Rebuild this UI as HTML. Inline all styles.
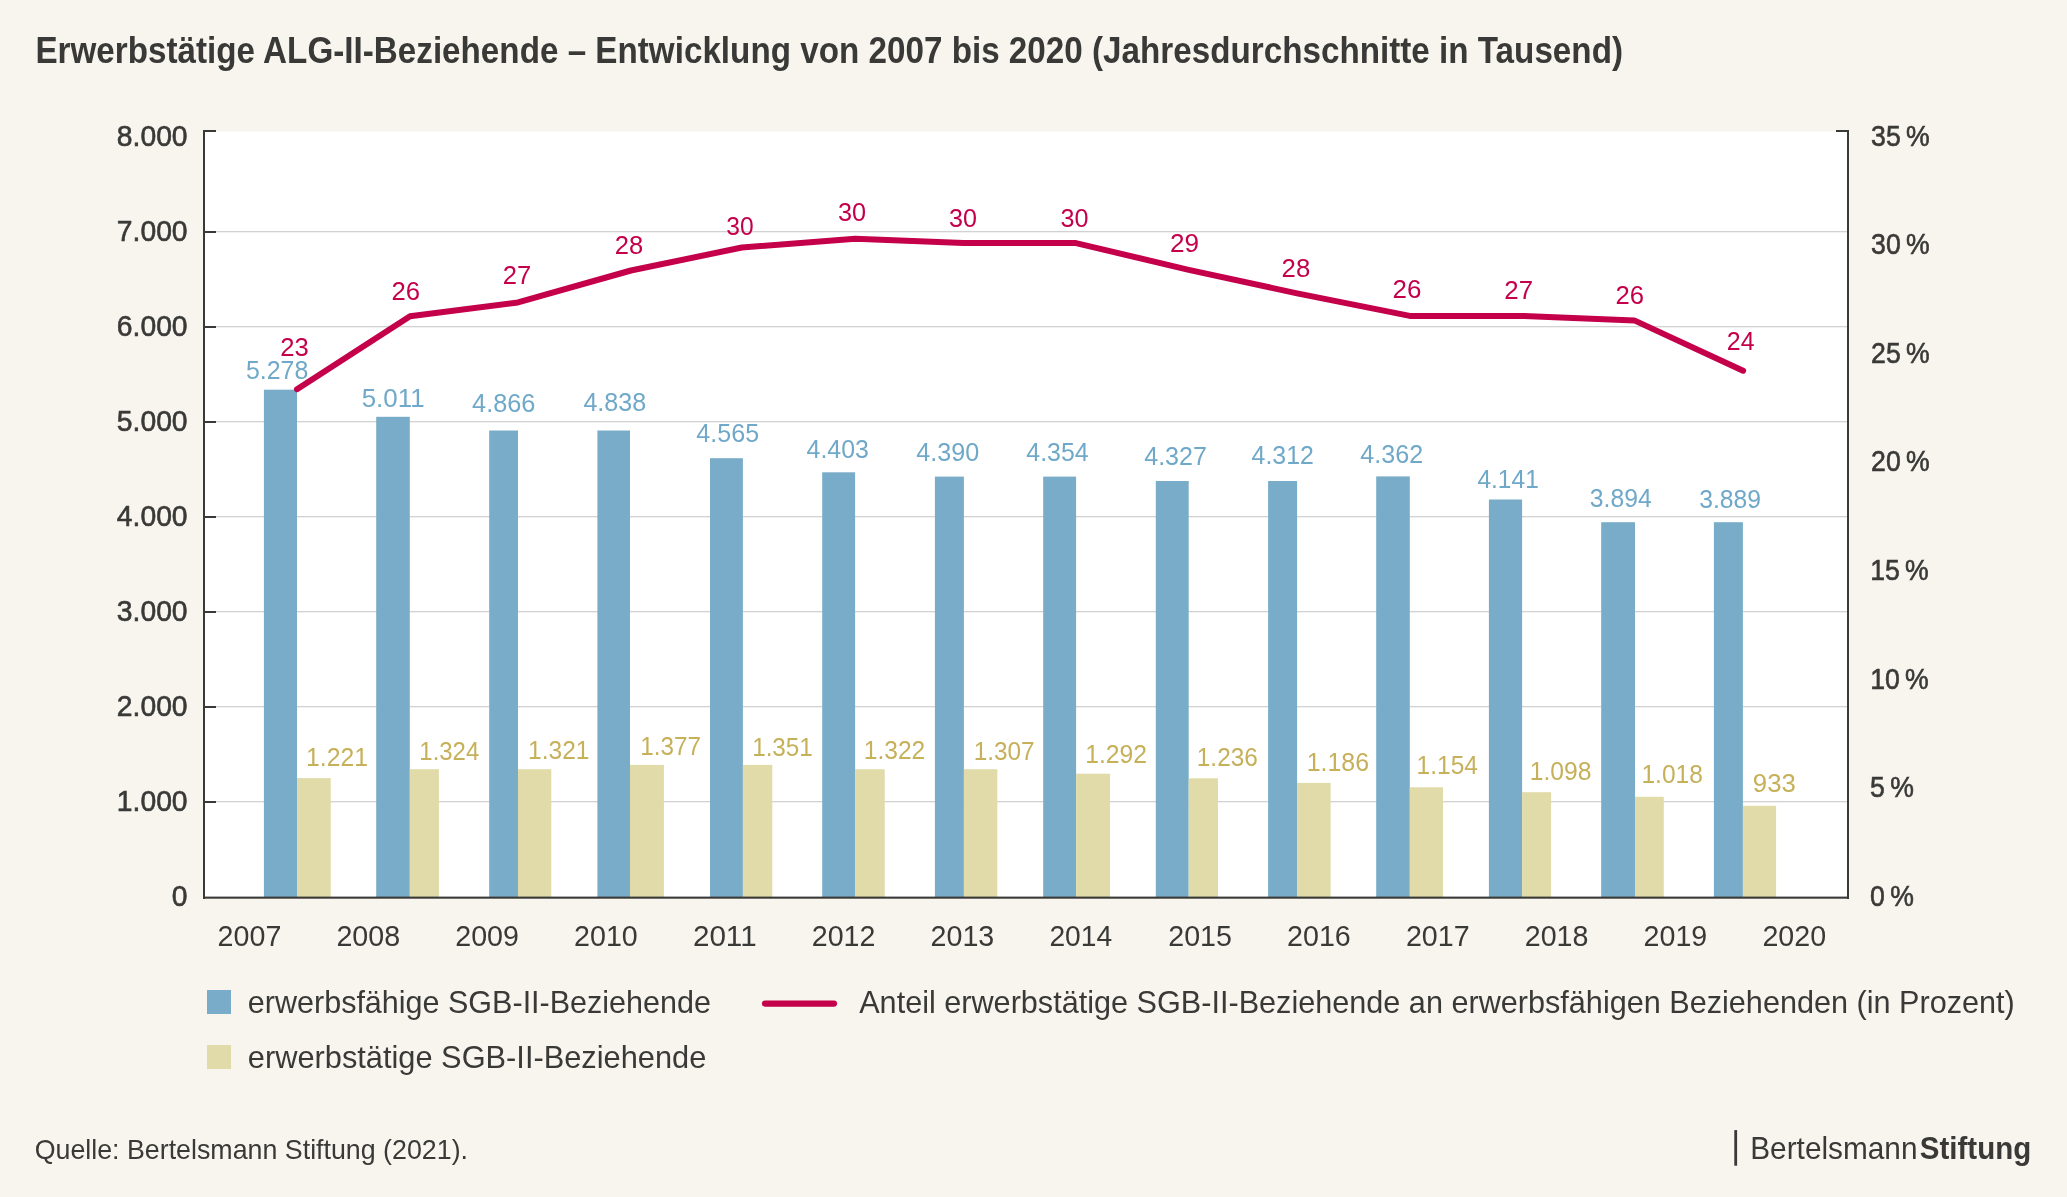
<!DOCTYPE html>
<html><head><meta charset="utf-8"><title>Erwerbstätige ALG-II-Beziehende</title>
<style>
html,body{margin:0;padding:0;background:#f8f5ee;}
body{width:2067px;height:1197px;overflow:hidden;}
svg{display:block;will-change:transform;}
text{font-family:"Liberation Sans",sans-serif;}
</style></head><body>
<svg width="2067" height="1197" viewBox="0 0 2067 1197">
<rect x="0" y="0" width="2067" height="1197" fill="#f8f5ee"/>
<rect x="205" y="131.5" width="1642" height="765.5" fill="#ffffff"/>
<rect x="205" y="801.00" width="1642" height="1.3" fill="#d2d2d2"/>
<rect x="205" y="706.00" width="1642" height="1.3" fill="#d2d2d2"/>
<rect x="205" y="611.00" width="1642" height="1.3" fill="#d2d2d2"/>
<rect x="205" y="516.00" width="1642" height="1.3" fill="#d2d2d2"/>
<rect x="205" y="421.00" width="1642" height="1.3" fill="#d2d2d2"/>
<rect x="205" y="326.00" width="1642" height="1.3" fill="#d2d2d2"/>
<rect x="205" y="231.00" width="1642" height="1.3" fill="#d2d2d2"/>
<rect x="263.9" y="389.7" width="33.1" height="507.3" fill="#78acc8"/>
<rect x="376.2" y="416.8" width="33.6" height="480.2" fill="#78acc8"/>
<rect x="489.2" y="430.5" width="28.8" height="466.5" fill="#78acc8"/>
<rect x="597.4" y="430.5" width="32.6" height="466.5" fill="#78acc8"/>
<rect x="710.0" y="458.2" width="32.9" height="438.8" fill="#78acc8"/>
<rect x="822.2" y="472.3" width="32.9" height="424.7" fill="#78acc8"/>
<rect x="934.9" y="476.6" width="29.0" height="420.4" fill="#78acc8"/>
<rect x="1043.2" y="476.6" width="32.9" height="420.4" fill="#78acc8"/>
<rect x="1155.8" y="481.0" width="32.9" height="416.0" fill="#78acc8"/>
<rect x="1268.1" y="481.0" width="29.0" height="416.0" fill="#78acc8"/>
<rect x="1376.2" y="476.4" width="33.6" height="420.6" fill="#78acc8"/>
<rect x="1488.9" y="499.5" width="33.2" height="397.5" fill="#78acc8"/>
<rect x="1601.2" y="522.2" width="33.8" height="374.8" fill="#78acc8"/>
<rect x="1713.9" y="522.2" width="29.0" height="374.8" fill="#78acc8"/>
<rect x="297.0" y="778.1" width="33.7" height="118.9" fill="#e0dba9"/>
<rect x="409.8" y="769.2" width="29.1" height="127.8" fill="#e0dba9"/>
<rect x="518.0" y="769.2" width="33.3" height="127.8" fill="#e0dba9"/>
<rect x="630.0" y="764.9" width="33.9" height="132.1" fill="#e0dba9"/>
<rect x="742.9" y="764.9" width="29.4" height="132.1" fill="#e0dba9"/>
<rect x="855.1" y="769.2" width="29.6" height="127.8" fill="#e0dba9"/>
<rect x="963.9" y="769.2" width="33.4" height="127.8" fill="#e0dba9"/>
<rect x="1076.1" y="773.7" width="33.9" height="123.3" fill="#e0dba9"/>
<rect x="1188.7" y="778.3" width="29.3" height="118.7" fill="#e0dba9"/>
<rect x="1297.1" y="782.9" width="33.5" height="114.1" fill="#e0dba9"/>
<rect x="1409.8" y="787.3" width="33.2" height="109.7" fill="#e0dba9"/>
<rect x="1522.1" y="792.2" width="29.0" height="104.8" fill="#e0dba9"/>
<rect x="1635.0" y="796.8" width="28.8" height="100.2" fill="#e0dba9"/>
<rect x="1742.9" y="805.8" width="33.2" height="91.2" fill="#e0dba9"/>
<rect x="203" y="130" width="2" height="769" fill="#393a38"/>
<rect x="1847" y="130" width="2" height="769" fill="#393a38"/>
<rect x="203" y="896.6" width="1646" height="2.1" fill="#393a38"/>
<rect x="203" y="130" width="13" height="2" fill="#393a38"/>
<rect x="1836" y="130" width="13" height="2" fill="#393a38"/>
<rect x="203" y="801.00" width="13" height="2" fill="#393a38"/>
<rect x="203" y="706.00" width="13" height="2" fill="#393a38"/>
<rect x="203" y="611.00" width="13" height="2" fill="#393a38"/>
<rect x="203" y="516.00" width="13" height="2" fill="#393a38"/>
<rect x="203" y="421.00" width="13" height="2" fill="#393a38"/>
<rect x="203" y="326.00" width="13" height="2" fill="#393a38"/>
<rect x="203" y="231.00" width="13" height="2" fill="#393a38"/>
<polyline points="297.0,389.2 410.0,316.2 518.0,302.4 630.9,270.5 741.9,247.5 855.2,238.8 963.6,243.1 1076.0,243.1 1188.7,269.8 1297.1,293.4 1409.8,315.9 1522.6,315.9 1634.3,320.4 1743.1,370.7" fill="none" stroke="#c4004b" stroke-width="6" stroke-linecap="round" stroke-linejoin="round"/>
<rect x="207" y="990" width="24" height="24" fill="#78acc8"/>
<rect x="207" y="1045" width="24" height="24" fill="#e0dba9"/>
<line x1="765" y1="1003.6" x2="834" y2="1003.6" stroke="#c4004b" stroke-width="6.2" stroke-linecap="round"/>
<rect x="1734.3" y="1130.1" width="2.8" height="35.6" fill="#393a38"/>
<text x="35.41" y="62.60" font-size="37" font-weight="bold" fill="#393a38" textLength="1587.58" lengthAdjust="spacingAndGlyphs">Erwerbstätige ALG-II-Beziehende – Entwicklung von 2007 bis 2020 (Jahresdurchschnitte in Tausend)</text>
<text x="171.87" y="905.60" font-size="29" font-weight="normal" fill="#393a38" stroke="#393a38" stroke-width="0.6" textLength="15.73" lengthAdjust="spacingAndGlyphs">0</text>
<text x="116.82" y="810.61" font-size="29" font-weight="normal" fill="#393a38" stroke="#393a38" stroke-width="0.6" textLength="70.78" lengthAdjust="spacingAndGlyphs">1.000</text>
<text x="116.82" y="715.62" font-size="29" font-weight="normal" fill="#393a38" stroke="#393a38" stroke-width="0.6" textLength="70.78" lengthAdjust="spacingAndGlyphs">2.000</text>
<text x="116.82" y="620.63" font-size="29" font-weight="normal" fill="#393a38" stroke="#393a38" stroke-width="0.6" textLength="70.78" lengthAdjust="spacingAndGlyphs">3.000</text>
<text x="116.82" y="525.64" font-size="29" font-weight="normal" fill="#393a38" stroke="#393a38" stroke-width="0.6" textLength="70.78" lengthAdjust="spacingAndGlyphs">4.000</text>
<text x="116.82" y="430.65" font-size="29" font-weight="normal" fill="#393a38" stroke="#393a38" stroke-width="0.6" textLength="70.78" lengthAdjust="spacingAndGlyphs">5.000</text>
<text x="116.82" y="335.66" font-size="29" font-weight="normal" fill="#393a38" stroke="#393a38" stroke-width="0.6" textLength="70.78" lengthAdjust="spacingAndGlyphs">6.000</text>
<text x="116.82" y="240.67" font-size="29" font-weight="normal" fill="#393a38" stroke="#393a38" stroke-width="0.6" textLength="70.78" lengthAdjust="spacingAndGlyphs">7.000</text>
<text x="116.82" y="145.68" font-size="29" font-weight="normal" fill="#393a38" stroke="#393a38" stroke-width="0.6" textLength="70.78" lengthAdjust="spacingAndGlyphs">8.000</text>
<text x="1871.08" y="145.70" font-size="29" font-weight="normal" fill="#393a38" stroke="#393a38" stroke-width="0.6" textLength="58.64" lengthAdjust="spacingAndGlyphs">35 %</text>
<text x="1871.08" y="254.26" font-size="29" font-weight="normal" fill="#393a38" stroke="#393a38" stroke-width="0.6" textLength="58.64" lengthAdjust="spacingAndGlyphs">30 %</text>
<text x="1871.08" y="362.82" font-size="29" font-weight="normal" fill="#393a38" stroke="#393a38" stroke-width="0.6" textLength="58.64" lengthAdjust="spacingAndGlyphs">25 %</text>
<text x="1871.08" y="471.38" font-size="29" font-weight="normal" fill="#393a38" stroke="#393a38" stroke-width="0.6" textLength="58.64" lengthAdjust="spacingAndGlyphs">20 %</text>
<text x="1870.16" y="579.94" font-size="29" font-weight="normal" fill="#393a38" stroke="#393a38" stroke-width="0.6" textLength="58.64" lengthAdjust="spacingAndGlyphs">15 %</text>
<text x="1870.16" y="688.50" font-size="29" font-weight="normal" fill="#393a38" stroke="#393a38" stroke-width="0.6" textLength="58.64" lengthAdjust="spacingAndGlyphs">10 %</text>
<text x="1870.08" y="797.06" font-size="29" font-weight="normal" fill="#393a38" stroke="#393a38" stroke-width="0.6" textLength="43.83" lengthAdjust="spacingAndGlyphs">5 %</text>
<text x="1870.08" y="905.62" font-size="29" font-weight="normal" fill="#393a38" stroke="#393a38" stroke-width="0.6" textLength="43.83" lengthAdjust="spacingAndGlyphs">0 %</text>
<text x="217.61" y="945.80" font-size="29" font-weight="normal" fill="#393a38" textLength="63.70" lengthAdjust="spacingAndGlyphs">2007</text>
<text x="336.44" y="945.80" font-size="29" font-weight="normal" fill="#393a38" textLength="63.70" lengthAdjust="spacingAndGlyphs">2008</text>
<text x="455.27" y="945.80" font-size="29" font-weight="normal" fill="#393a38" textLength="63.70" lengthAdjust="spacingAndGlyphs">2009</text>
<text x="574.10" y="945.80" font-size="29" font-weight="normal" fill="#393a38" textLength="63.70" lengthAdjust="spacingAndGlyphs">2010</text>
<text x="692.90" y="945.80" font-size="29" font-weight="normal" fill="#393a38" textLength="63.78" lengthAdjust="spacingAndGlyphs">2011</text>
<text x="811.76" y="945.80" font-size="29" font-weight="normal" fill="#393a38" textLength="63.70" lengthAdjust="spacingAndGlyphs">2012</text>
<text x="930.59" y="945.80" font-size="29" font-weight="normal" fill="#393a38" textLength="63.70" lengthAdjust="spacingAndGlyphs">2013</text>
<text x="1049.44" y="945.80" font-size="29" font-weight="normal" fill="#393a38" textLength="62.70" lengthAdjust="spacingAndGlyphs">2014</text>
<text x="1168.25" y="945.80" font-size="29" font-weight="normal" fill="#393a38" textLength="63.70" lengthAdjust="spacingAndGlyphs">2015</text>
<text x="1287.08" y="945.80" font-size="29" font-weight="normal" fill="#393a38" textLength="63.70" lengthAdjust="spacingAndGlyphs">2016</text>
<text x="1405.91" y="945.80" font-size="29" font-weight="normal" fill="#393a38" textLength="63.70" lengthAdjust="spacingAndGlyphs">2017</text>
<text x="1524.74" y="945.80" font-size="29" font-weight="normal" fill="#393a38" textLength="63.70" lengthAdjust="spacingAndGlyphs">2018</text>
<text x="1643.57" y="945.80" font-size="29" font-weight="normal" fill="#393a38" textLength="63.70" lengthAdjust="spacingAndGlyphs">2019</text>
<text x="1762.40" y="945.80" font-size="29" font-weight="normal" fill="#393a38" textLength="63.70" lengthAdjust="spacingAndGlyphs">2020</text>
<text x="245.90" y="378.50" font-size="25" font-weight="normal" fill="#6fa8c8" textLength="62.40" lengthAdjust="spacingAndGlyphs">5.278</text>
<text x="361.66" y="406.90" font-size="25" font-weight="normal" fill="#6fa8c8" textLength="62.97" lengthAdjust="spacingAndGlyphs">5.011</text>
<text x="472.10" y="411.70" font-size="25" font-weight="normal" fill="#6fa8c8" textLength="63.31" lengthAdjust="spacingAndGlyphs">4.866</text>
<text x="583.40" y="411.20" font-size="25" font-weight="normal" fill="#6fa8c8" textLength="62.81" lengthAdjust="spacingAndGlyphs">4.838</text>
<text x="696.30" y="441.80" font-size="25" font-weight="normal" fill="#6fa8c8" textLength="62.81" lengthAdjust="spacingAndGlyphs">4.565</text>
<text x="806.60" y="457.90" font-size="25" font-weight="normal" fill="#6fa8c8" textLength="62.30" lengthAdjust="spacingAndGlyphs">4.403</text>
<text x="916.30" y="460.60" font-size="25" font-weight="normal" fill="#6fa8c8" textLength="63.01" lengthAdjust="spacingAndGlyphs">4.390</text>
<text x="1026.30" y="460.60" font-size="25" font-weight="normal" fill="#6fa8c8" textLength="62.30" lengthAdjust="spacingAndGlyphs">4.354</text>
<text x="1144.20" y="465.00" font-size="25" font-weight="normal" fill="#6fa8c8" textLength="62.81" lengthAdjust="spacingAndGlyphs">4.327</text>
<text x="1251.60" y="464.00" font-size="25" font-weight="normal" fill="#6fa8c8" textLength="62.30" lengthAdjust="spacingAndGlyphs">4.312</text>
<text x="1360.30" y="462.80" font-size="25" font-weight="normal" fill="#6fa8c8" textLength="62.81" lengthAdjust="spacingAndGlyphs">4.362</text>
<text x="1477.40" y="487.70" font-size="25" font-weight="normal" fill="#6fa8c8" textLength="61.39" lengthAdjust="spacingAndGlyphs">4.141</text>
<text x="1589.80" y="506.90" font-size="25" font-weight="normal" fill="#6fa8c8" textLength="61.90" lengthAdjust="spacingAndGlyphs">3.894</text>
<text x="1699.20" y="507.60" font-size="25" font-weight="normal" fill="#6fa8c8" textLength="61.79" lengthAdjust="spacingAndGlyphs">3.889</text>
<text x="306.11" y="766.10" font-size="25" font-weight="normal" fill="#c6b05a" textLength="61.88" lengthAdjust="spacingAndGlyphs">1.221</text>
<text x="419.34" y="760.00" font-size="25" font-weight="normal" fill="#c6b05a" textLength="59.86" lengthAdjust="spacingAndGlyphs">1.324</text>
<text x="528.12" y="758.70" font-size="25" font-weight="normal" fill="#c6b05a" textLength="61.37" lengthAdjust="spacingAndGlyphs">1.321</text>
<text x="640.23" y="754.80" font-size="25" font-weight="normal" fill="#c6b05a" textLength="60.65" lengthAdjust="spacingAndGlyphs">1.377</text>
<text x="752.13" y="755.90" font-size="25" font-weight="normal" fill="#c6b05a" textLength="60.75" lengthAdjust="spacingAndGlyphs">1.351</text>
<text x="863.82" y="759.20" font-size="25" font-weight="normal" fill="#c6b05a" textLength="61.47" lengthAdjust="spacingAndGlyphs">1.322</text>
<text x="973.73" y="759.90" font-size="25" font-weight="normal" fill="#c6b05a" textLength="60.95" lengthAdjust="spacingAndGlyphs">1.307</text>
<text x="1085.21" y="763.00" font-size="25" font-weight="normal" fill="#c6b05a" textLength="61.88" lengthAdjust="spacingAndGlyphs">1.292</text>
<text x="1196.83" y="766.10" font-size="25" font-weight="normal" fill="#c6b05a" textLength="60.95" lengthAdjust="spacingAndGlyphs">1.236</text>
<text x="1306.70" y="771.00" font-size="25" font-weight="normal" fill="#c6b05a" textLength="62.30" lengthAdjust="spacingAndGlyphs">1.186</text>
<text x="1416.62" y="774.10" font-size="25" font-weight="normal" fill="#c6b05a" textLength="61.29" lengthAdjust="spacingAndGlyphs">1.154</text>
<text x="1529.71" y="779.90" font-size="25" font-weight="normal" fill="#c6b05a" textLength="61.78" lengthAdjust="spacingAndGlyphs">1.098</text>
<text x="1641.42" y="782.60" font-size="25" font-weight="normal" fill="#c6b05a" textLength="61.47" lengthAdjust="spacingAndGlyphs">1.018</text>
<text x="1752.87" y="791.90" font-size="25" font-weight="normal" fill="#c6b05a" textLength="42.96" lengthAdjust="spacingAndGlyphs">933</text>
<text x="280.27" y="355.80" font-size="25" font-weight="normal" fill="#c4004b" textLength="28.55" lengthAdjust="spacingAndGlyphs">23</text>
<text x="391.57" y="299.80" font-size="25" font-weight="normal" fill="#c4004b" textLength="28.55" lengthAdjust="spacingAndGlyphs">26</text>
<text x="502.68" y="284.00" font-size="25" font-weight="normal" fill="#c4004b" textLength="28.45" lengthAdjust="spacingAndGlyphs">27</text>
<text x="614.68" y="253.60" font-size="25" font-weight="normal" fill="#c4004b" textLength="28.45" lengthAdjust="spacingAndGlyphs">28</text>
<text x="726.30" y="234.70" font-size="25" font-weight="normal" fill="#c4004b" textLength="27.39" lengthAdjust="spacingAndGlyphs">30</text>
<text x="837.90" y="221.40" font-size="25" font-weight="normal" fill="#c4004b" textLength="28.11" lengthAdjust="spacingAndGlyphs">30</text>
<text x="949.00" y="226.60" font-size="25" font-weight="normal" fill="#c4004b" textLength="27.91" lengthAdjust="spacingAndGlyphs">30</text>
<text x="1060.40" y="226.60" font-size="25" font-weight="normal" fill="#c4004b" textLength="28.01" lengthAdjust="spacingAndGlyphs">30</text>
<text x="1170.05" y="251.80" font-size="25" font-weight="normal" fill="#c4004b" textLength="29.09" lengthAdjust="spacingAndGlyphs">29</text>
<text x="1281.57" y="276.60" font-size="25" font-weight="normal" fill="#c4004b" textLength="28.66" lengthAdjust="spacingAndGlyphs">28</text>
<text x="1392.46" y="297.60" font-size="25" font-weight="normal" fill="#c4004b" textLength="28.88" lengthAdjust="spacingAndGlyphs">26</text>
<text x="1504.27" y="298.60" font-size="25" font-weight="normal" fill="#c4004b" textLength="28.77" lengthAdjust="spacingAndGlyphs">27</text>
<text x="1615.47" y="303.70" font-size="25" font-weight="normal" fill="#c4004b" textLength="28.55" lengthAdjust="spacingAndGlyphs">26</text>
<text x="1726.80" y="350.20" font-size="25" font-weight="normal" fill="#c4004b" textLength="27.70" lengthAdjust="spacingAndGlyphs">24</text>
<text x="247.85" y="1012.60" font-size="32" font-weight="normal" fill="#393a38" textLength="463.11" lengthAdjust="spacingAndGlyphs">erwerbsfähige SGB-II-Beziehende</text>
<text x="247.84" y="1067.50" font-size="32" font-weight="normal" fill="#393a38" textLength="458.43" lengthAdjust="spacingAndGlyphs">erwerbstätige SGB-II-Beziehende</text>
<text x="859.20" y="1012.60" font-size="32" font-weight="normal" fill="#393a38" textLength="1155.58" lengthAdjust="spacingAndGlyphs">Anteil erwerbstätige SGB-II-Beziehende an erwerbsfähigen Beziehenden (in Prozent)</text>
<text x="34.66" y="1158.60" font-size="28.5" font-weight="normal" fill="#393a38" textLength="433.34" lengthAdjust="spacingAndGlyphs">Quelle: Bertelsmann Stiftung (2021).</text>
<text x="1750.25" y="1158.60" font-size="30.5" font-weight="normal" fill="#393a38" textLength="167.27" lengthAdjust="spacingAndGlyphs">Bertelsmann</text>
<text x="1919.80" y="1158.60" font-size="30.5" font-weight="bold" fill="#393a38" textLength="111.48" lengthAdjust="spacingAndGlyphs">Stiftung</text>
</svg>
</body></html>
